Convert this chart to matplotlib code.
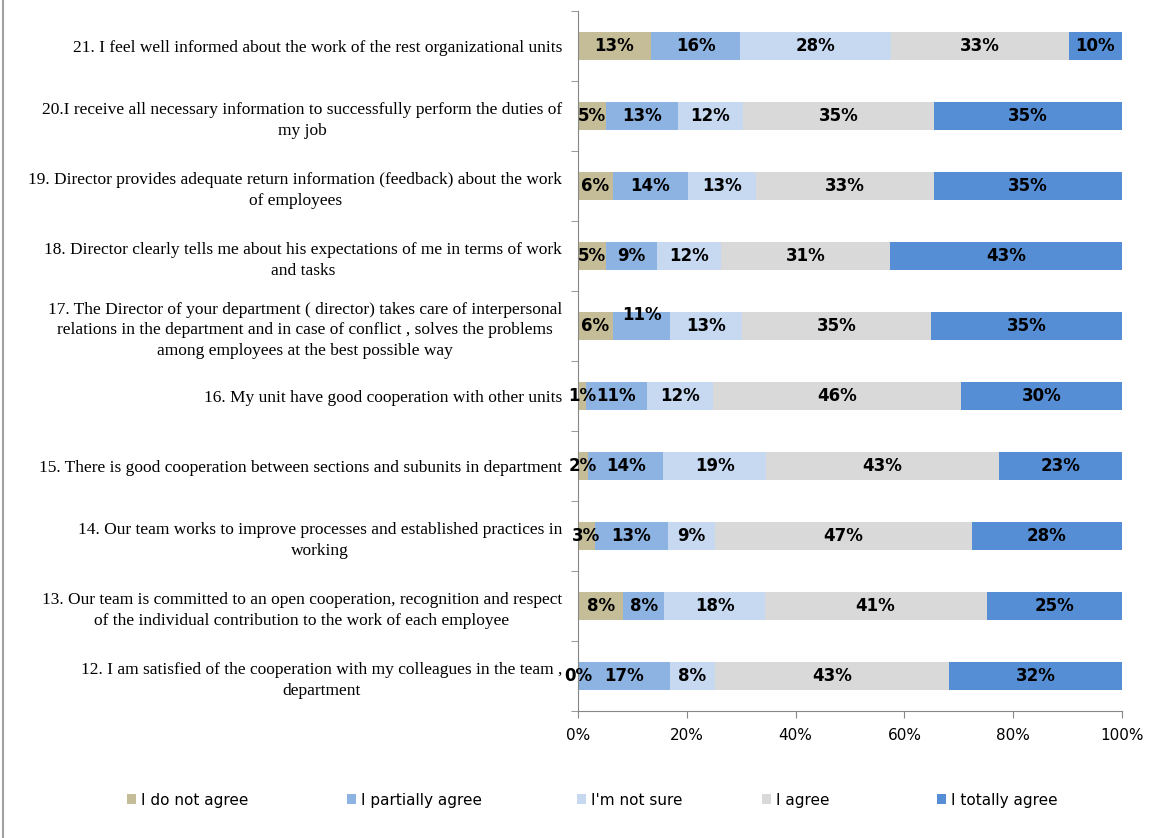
import numpy as np
import matplotlib
matplotlib.use("Agg")
import matplotlib.pyplot as plt
from matplotlib.patches import Patch
from matplotlib.lines import Line2D

# categories, bottom to top
questions = [
    "12. I am satisfied of the cooperation with my colleagues in the team ,\ndepartment",
    "13. Our team is committed to an open cooperation, recognition and respect\nof the individual contribution to the work of each employee",
    "14. Our team works to improve processes and established practices in\nworking",
    "15. There is good cooperation between sections and subunits in department",
    "16. My unit have good cooperation with other units",
    "17. The Director of your department ( director) takes care of interpersonal\nrelations in the department and in case of conflict , solves the problems\namong employees at the best possible way",
    "18. Director clearly tells me about his expectations of me in terms of work\nand tasks",
    "19. Director provides adequate return information (feedback) about the work\nof employees",
    "20.I receive all necessary information to successfully perform the duties of\nmy job",
    "21. I feel well informed about the work of the rest organizational units",
]

series_names = ["I do not agree", "I partially agree", "I'm not sure", "I agree", "I totally agree"]

do_not_agree = [0.0, 8.3, 3.1, 1.8, 1.4, 6.4, 5.1, 6.4, 5.1, 13.4]
partially_agree = [16.9, 7.6, 13.4, 13.9, 11.2, 10.6, 9.4, 13.8, 13.2, 16.4]
not_sure = [8.2, 18.4, 8.6, 18.9, 12.2, 13.2, 11.8, 12.6, 12.0, 27.8]
agree = [43.1, 40.8, 47.3, 42.7, 45.6, 34.6, 31.1, 32.6, 35.1, 32.6]
totally_agree = [31.8, 24.9, 27.6, 22.7, 29.6, 35.2, 42.6, 34.6, 34.6, 9.8]

colors = ["#c4bd97", "#8db3e2", "#c6d9f1", "#d9d9d9", "#558ed5"]

series = [do_not_agree, partially_agree, not_sure, agree, totally_agree]

fig = plt.figure(figsize=(11.61, 8.38), dpi=100)
ax = fig.add_axes([578 / 1161, 1 - 711 / 838, 544 / 1161, 700 / 838])

y = np.arange(len(questions))
left = np.zeros(len(questions))
for vals, c in zip(series, colors):
    vals = np.array(vals)
    ax.barh(y, vals, left=left, height=0.4, color=c, edgecolor="none")
    for i, v in enumerate(vals):
        dy = 0.0
        # the "11%" label in row 17 sits above the bar centre in the original
        if c == colors[1] and i == 5:
            dy = 0.16
        ax.text(left[i] + v / 2, y[i] + dy, f"{v:.0f}%", ha="center", va="center",
                fontsize=12, fontweight="bold", family="DejaVu Sans", color="black")
    left += vals

ax.set_xlim(0, 100)
ax.set_ylim(-0.5, len(questions) - 0.5)

ax.set_yticks(y)
ax.set_yticklabels(questions, family="Liberation Serif", fontsize=12.5,
                   multialignment="center", linespacing=1.4)
ax.tick_params(axis="y", which="major", length=0, pad=11.5)
ax.set_yticks(np.arange(len(questions) + 1) - 0.5, minor=True)
ax.tick_params(axis="y", which="minor", length=5, color="#868686", direction="out")

ax.set_xticks(np.arange(0, 101, 20))
ax.set_xticklabels([f"{t}%" for t in range(0, 101, 20)], fontsize=11)
ax.tick_params(axis="x", length=5, color="#868686", pad=7)

for s in ["top", "right"]:
    ax.spines[s].set_visible(False)
for s in ["left", "bottom"]:
    ax.spines[s].set_color("#868686")

# legend entries placed one by one, as in the original
legend_x = [127, 347, 577, 762, 937]
for name, c, lx in zip(series_names, colors, legend_x):
    fig.legend([Patch(facecolor=c, edgecolor="none")], [name], loc="center left",
               bbox_to_anchor=(lx / 1161, 1 - 800 / 838), frameon=False,
               fontsize=11, handlelength=0.6, handleheight=0.6,
               handletextpad=0.3, borderpad=0, borderaxespad=0)

# left border line of the chart frame
fig.add_artist(Line2D([3 / 1161, 3 / 1161], [0, 1], transform=fig.transFigure,
                      color="#a0a0a0", lw=1.5))

fig.savefig("out.png", dpi=100)
